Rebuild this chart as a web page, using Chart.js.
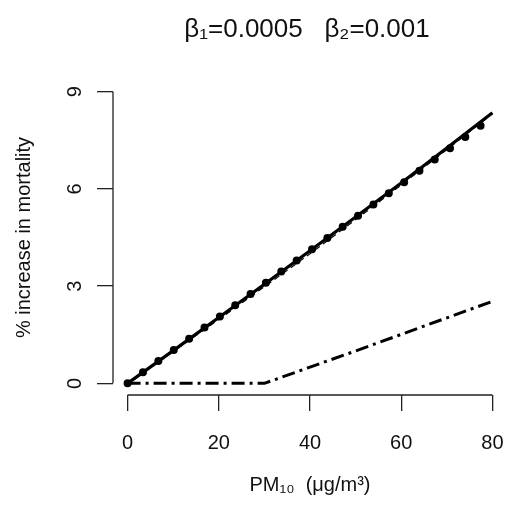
<!DOCTYPE html>
<html>
<head>
<meta charset="utf-8">
<script src="https://cdn.jsdelivr.net/npm/chart.js@4.4.1/dist/chart.umd.min.js"></script>
<style>
    html, body { margin: 0; padding: 0; background: #fff; }
    #wrap { position: relative; width: 507px; height: 507px; }
</style>
</head>
<body>
<div id="wrap"><canvas id="chart"></canvas></div>
<script>
// PM10 concentration (x) and % increase in mortality for each model curve
const pm10 = [0, 10, 20, 30, 40, 50, 60, 70, 80];
const linearCurve = [0, 1.01, 2.03, 3.06, 4.09, 5.13, 6.18, 7.26, 8.35];
const dottedCurve = [0, 1.02, 2.04, 3.07, 4.09, 5.12, 6.14, 7.18, 8.22];
const dashedCurve = [0, 0.98, 1.97, 2.98, 4.0, 5.05, 6.12, 7.21, 8.32];
const thresholdCurve = [0, 0, 0, 0, 0.5, 1.0, 1.51, 2.02, 2.53];

const xTicks = [0, 20, 40, 60, 80];
const yTicks = [0, 3, 6, 9];
const titleText = 'β₁=0.0005   β₂=0.001';
const xTitle = 'PM₁₀  (μg/m³)';
const yTitle = '% increase in mortality';

const font = 'Liberation Sans, Arial, sans-serif';
const ink = '#111';

function toPoints(values) {
    return values.map((v, i) => ({ x: pm10[i], y: v }));
}

// R style detached axes: line only spans first..last tick, plus a centred title
const rAxesPlugin = {
    id: 'rAxes',
    afterDraw(chart) {
        const ctx = chart.ctx;
        const area = chart.chartArea;
        const xs = chart.scales.x;
        const ys = chart.scales.y;
        ctx.save();
        ctx.strokeStyle = '#222';
        ctx.lineWidth = 1.3;
        ctx.beginPath();
        ctx.moveTo(xs.getPixelForValue(xTicks[0]), area.bottom);
        ctx.lineTo(xs.getPixelForValue(xTicks[xTicks.length - 1]), area.bottom);
        ctx.moveTo(area.left, ys.getPixelForValue(yTicks[0]));
        ctx.lineTo(area.left, ys.getPixelForValue(yTicks[yTicks.length - 1]));
        ctx.stroke();

        ctx.fillStyle = ink;
        ctx.font = '26px ' + font;
        ctx.textAlign = 'center';
        ctx.textBaseline = 'middle';
        ctx.fillText(titleText, (area.left + area.right) / 2 - 3, 30);
        ctx.restore();
    }
};

new Chart(document.getElementById('chart'), {
    type: 'line',
    data: {
        datasets: [
            {
                data: toPoints(linearCurve),
                borderColor: '#000',
                borderWidth: 3.2,
                order: 4
            },
            {
                data: toPoints(dottedCurve),
                borderColor: '#000',
                borderWidth: 8,
                borderDash: [0, 19],
                borderCapStyle: 'round',
                order: 3
            },
            {
                data: toPoints(dashedCurve),
                borderColor: '#000',
                borderWidth: 1.2,
                borderDash: [6, 4],
                order: 2
            },
            {
                data: toPoints(thresholdCurve),
                borderColor: '#000',
                borderWidth: 3,
                borderDash: [13, 5, 3, 5],
                order: 1
            }
        ]
    },
    options: {
        responsive: true,
        maintainAspectRatio: false,
        animation: false,
        layout: { padding: { top: 80, right: 0, left: 0, bottom: 0 } },
        elements: {
            point: { radius: 0, hoverRadius: 0 },
            line: { tension: 0, fill: false }
        },
        scales: {
            x: {
                type: 'linear',
                min: -3.2,
                max: 83.2,
                afterBuildTicks: (scale) => { scale.ticks = xTicks.map(v => ({ value: v })); },
                afterFit: (scale) => {
                    scale.height = 112;
                    scale.paddingLeft = 0;
                    scale.paddingRight = 0;
                },
                border: { display: false },
                grid: { drawOnChartArea: false, drawTicks: true, tickLength: 16, color: '#222', lineWidth: 1.3 },
                ticks: {
                    color: ink,
                    font: { family: font, size: 20 },
                    padding: 20,
                    maxRotation: 0,
                    autoSkip: false
                },
                title: {
                    display: true,
                    text: xTitle,
                    color: ink,
                    font: { family: font, size: 20 },
                    padding: { top: 0, bottom: 10 }
                }
            },
            y: {
                type: 'linear',
                min: -0.36,
                max: 9.36,
                afterBuildTicks: (scale) => { scale.ticks = yTicks.map(v => ({ value: v })); },
                afterFit: (scale) => {
                    scale.width = 113;
                    scale.paddingTop = 0;
                    scale.paddingBottom = 0;
                },
                border: { display: false },
                grid: { drawOnChartArea: false, drawTicks: true, tickLength: 16, color: '#222', lineWidth: 1.3 },
                ticks: {
                    color: ink,
                    font: { family: font, size: 20 },
                    padding: 16,
                    minRotation: 90,
                    maxRotation: 90,
                    crossAlign: 'center',
                    autoSkip: false
                },
                title: {
                    display: true,
                    text: yTitle,
                    color: ink,
                    font: { family: font, size: 20 },
                    padding: { top: 12, bottom: 0 }
                }
            }
        },
        plugins: {
            legend: { display: false },
            tooltip: { enabled: false },
            title: { display: false }
        }
    },
    plugins: [rAxesPlugin]
});
</script>
</body>
</html>
